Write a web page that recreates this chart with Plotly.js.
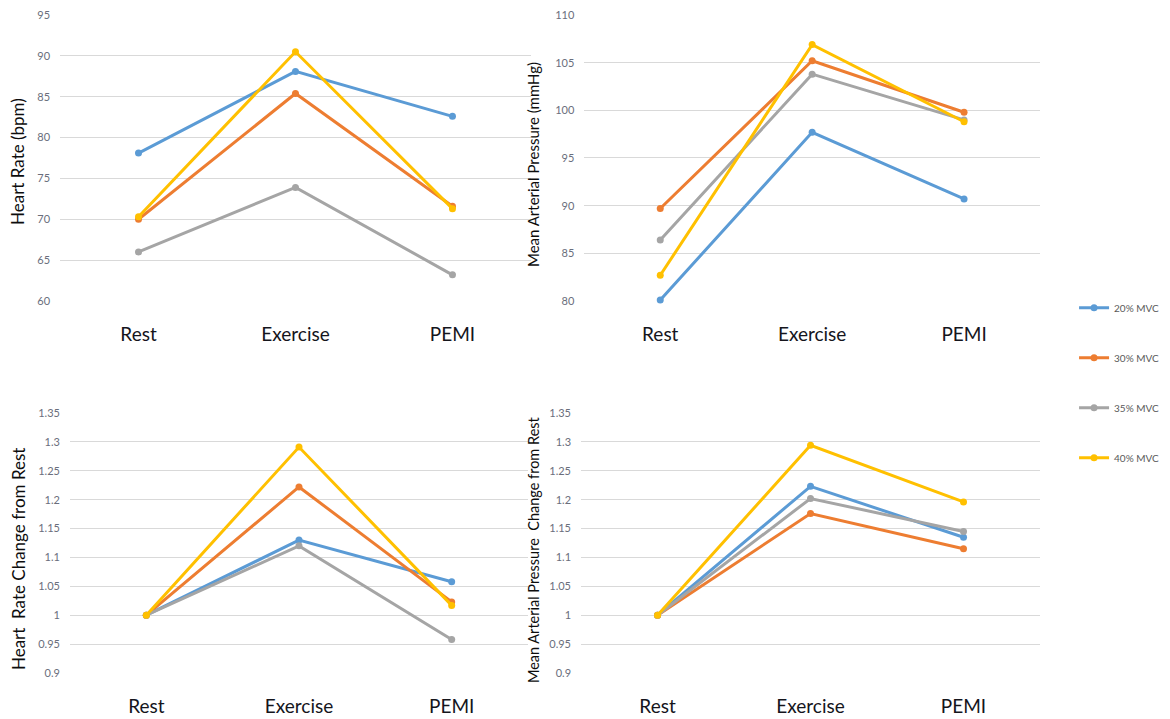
<!DOCTYPE html>
<html>
<head>
<meta charset="utf-8">
<script src="https://cdn.plot.ly/plotly-3.0.1.min.js"></script>
<style>
  html, body { margin: 0; padding: 0; background: #ffffff; }
  #chart { width: 1170px; height: 719px; }
</style>
</head>
<body>
<div id="chart"></div>
<script>
// Phases of the protocol
const categories = ['Rest', 'Exercise', 'PEMI'];
const seriesNames = ['20% MVC', '30% MVC', '35% MVC', '40% MVC'];
const seriesColors = ['#5B9BD5', '#ED7D31', '#A5A5A5', '#FFC000'];

// Heart rate (bpm)
const hr20 = [78.1, 88.1, 82.6];
const hr30 = [70.0, 85.4, 71.6];
const hr35 = [66.0, 73.9, 63.2];
const hr40 = [70.3, 90.5, 71.3];

// Mean arterial pressure (mmHg)
const map20 = [80.1, 97.7, 90.7];
const map30 = [89.7, 105.2, 99.8];
const map35 = [86.4, 103.8, 99.0];
const map40 = [82.7, 106.9, 98.8];

// Heart rate relative to rest
const hrc20 = [1, 1.13, 1.058];
const hrc30 = [1, 1.222, 1.023];
const hrc35 = [1, 1.12, 0.958];
const hrc40 = [1, 1.291, 1.017];

// Mean arterial pressure relative to rest
const mapc20 = [1, 1.223, 1.135];
const mapc30 = [1, 1.176, 1.115];
const mapc35 = [1, 1.202, 1.145];
const mapc40 = [1, 1.294, 1.196];

// Y tick labels
const hrTicks = [60, 65, 70, 75, 80, 85, 90, 95];
const mapTicks = [80, 85, 90, 95, 100, 105, 110];
const ratioTickVals = [0.9, 0.95, 1, 1.05, 1.1, 1.15, 1.2, 1.25, 1.3, 1.35];
const ratioTickText = ['0.9', '0.95', '1', '1.05', '1.1', '1.15', '1.2', '1.25', '1.3', '1.35'];

// Axis titles
const yTitles = [
  'Heart Rate (bpm)',
  'Mean Arterial Pressure (mmHg)',
  'Heart  Rate Change from Rest',
  'Mean Arterial Pressure  Change from Rest'
];

const panels = [
  { series: [hr20, hr30, hr35, hr40], xa: 'x', ya: 'y' },
  { series: [map20, map30, map35, map40], xa: 'x2', ya: 'y2' },
  { series: [hrc20, hrc30, hrc35, hrc40], xa: 'x3', ya: 'y3' },
  { series: [mapc20, mapc30, mapc35, mapc40], xa: 'x4', ya: 'y4' }
];

const traces = [];
panels.forEach((p, pi) => {
  p.series.forEach((vals, si) => {
    traces.push({
      type: 'scatter',
      mode: 'lines+markers',
      x: categories,
      y: vals,
      xaxis: p.xa,
      yaxis: p.ya,
      name: seriesNames[si],
      legendgroup: 'g' + si,
      showlegend: pi === 0,
      cliponaxis: false,
      line: { color: seriesColors[si], width: 3 },
      marker: { color: seriesColors[si], size: 7 },
      hoverinfo: 'x+y+name'
    });
  });
});

const tickFont = { family: 'Lato, "Open Sans", sans-serif', size: 11, color: '#6a6e7c' };
const catFont = { family: 'Lato, "Open Sans", sans-serif', size: 19, color: '#15151c' };

function xAxis(domain, anchor) {
  return {
    domain: domain,
    anchor: anchor,
    type: 'category',
    categoryorder: 'array',
    categoryarray: categories,
    range: [-0.5, 2.5],
    showgrid: false,
    zeroline: false,
    showline: false,
    ticks: '',
    tickfont: catFont,
    ticklabelstandoff: 20,
    fixedrange: true
  };
}

function yAxis(domain, anchor, range, vals, text) {
  return {
    domain: domain,
    anchor: anchor,
    range: range,
    tickmode: 'array',
    tickvals: vals,
    ticktext: text,
    showgrid: true,
    gridcolor: '#d9d9d9',
    gridwidth: 1,
    zeroline: false,
    showline: false,
    ticks: '',
    tickfont: tickFont,
    ticklabelstandoff: 9,
    fixedrange: true
  };
}

const titleFont = { family: 'Lato, "Open Sans", sans-serif', color: '#0d0d0d' };

const layout = {
  width: 1170,
  height: 719,
  autosize: false,
  margin: { l: 0, r: 0, t: 0, b: 0, pad: 0 },
  paper_bgcolor: '#ffffff',
  plot_bgcolor: '#ffffff',
  showlegend: true,
  legend: {
    x: 0.918,
    y: 0.592,
    xanchor: 'left',
    yanchor: 'top',
    font: { family: 'Lato, "Open Sans", sans-serif', size: 10, color: '#595959' },
    tracegroupgap: 31,
    itemwidth: 30,
    bgcolor: 'rgba(0,0,0,0)'
  },
  xaxis: xAxis([0.0513, 0.4538], 'y'),
  yaxis: yAxis([0.5814, 0.9791], 'x', [60, 95], hrTicks, hrTicks.map(String)),
  xaxis2: xAxis([0.4994, 0.8889], 'y2'),
  yaxis2: yAxis([0.5814, 0.9791], 'x2', [80, 110], mapTicks, mapTicks.map(String)),
  xaxis3: xAxis([0.0598, 0.4513], 'y3'),
  yaxis3: yAxis([0.0640, 0.4256], 'x3', [0.9, 1.35], ratioTickVals, ratioTickText),
  xaxis4: xAxis([0.4966, 0.8889], 'y4'),
  yaxis4: yAxis([0.0640, 0.4256], 'x4', [0.9, 1.35], ratioTickVals, ratioTickText),
  annotations: [
    { text: yTitles[0], x: 0.0154, y: 0.7747, font: Object.assign({ size: 17 }, titleFont) },
    { text: yTitles[1], x: 0.4556, y: 0.7705, font: Object.assign({ size: 15 }, titleFont) },
    { text: yTitles[2], x: 0.0154, y: 0.2225, font: Object.assign({ size: 17 }, titleFont) },
    { text: yTitles[3], x: 0.4556, y: 0.2350, font: Object.assign({ size: 14.5 }, titleFont) }
  ].map(a => Object.assign({
    xref: 'paper', yref: 'paper', textangle: -90, showarrow: false,
    xanchor: 'center', yanchor: 'middle'
  }, a))
};

Plotly.newPlot('chart', traces, layout, { displayModeBar: false, staticPlot: true });
</script>
</body>
</html>
